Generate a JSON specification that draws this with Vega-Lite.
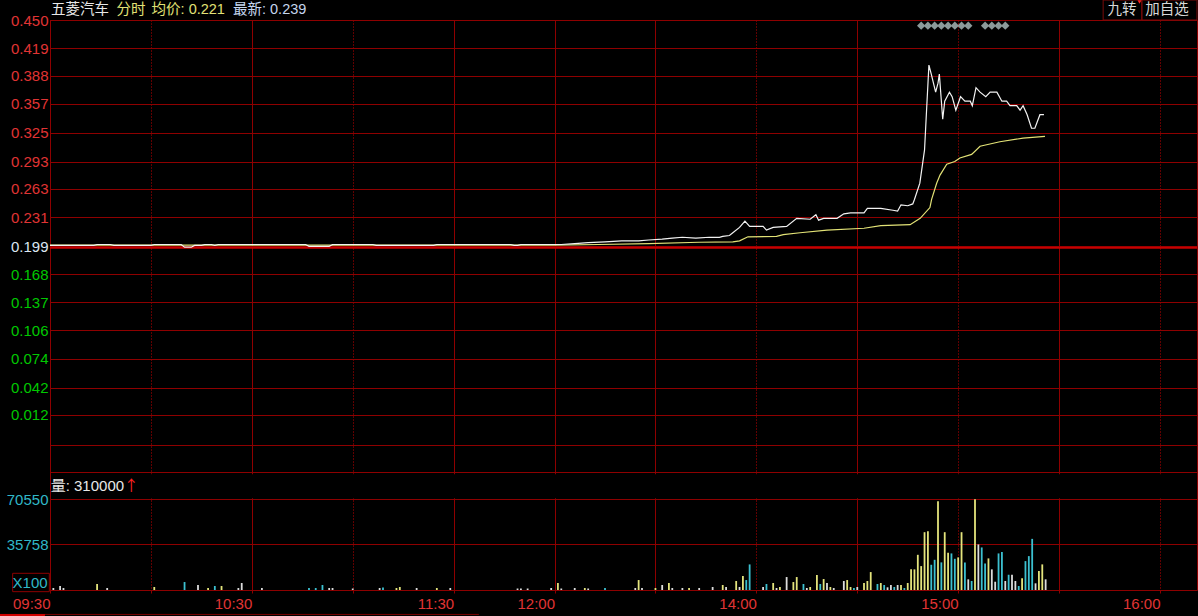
{
  "$schema": "https://vega.github.io/schema/vega-lite/v6.json",
  "width": 1147,
  "height": 570,
  "autosize": {"type": "none"},
  "padding": {"left": 50, "top": 20, "right": 1, "bottom": 26},
  "background": "#000000",
  "config": {
    "view": {"stroke": "#8e0000", "strokeWidth": 1},
    "text": {"font": "Liberation Sans, Noto Sans CJK SC", "fontSize": 14.5, "baseline": "middle"},
    "axis": {"labelFont": "Liberation Sans", "labelFontSize": 15, "title": null}
  },
  "datasets": {
    "price": [
      {"m":0,"p":0.200},{"m":13,"p":0.200},{"m":14,"p":0.201},{"m":18,"p":0.201},{"m":19,"p":0.200},
      {"m":30,"p":0.200},{"m":31,"p":0.201},{"m":39,"p":0.201},{"m":40,"p":0.198},{"m":42,"p":0.198},
      {"m":43,"p":0.200},{"m":45,"p":0.200},{"m":46,"p":0.201},{"m":48,"p":0.201},{"m":49,"p":0.200},
      {"m":50,"p":0.201},{"m":76,"p":0.201},{"m":77,"p":0.199},{"m":83,"p":0.199},{"m":84,"p":0.201},
      {"m":96,"p":0.201},{"m":97,"p":0.200},{"m":114,"p":0.200},{"m":115,"p":0.201},{"m":137,"p":0.201},
      {"m":138,"p":0.200},{"m":139,"p":0.200},{"m":140,"p":0.201},{"m":150,"p":0.201},
      {"m":152,"p":0.201},{"m":156,"p":0.202},{"m":160,"p":0.203},{"m":165,"p":0.204},{"m":170,"p":0.205},
      {"m":175,"p":0.205},{"m":178,"p":0.206},{"m":182,"p":0.207},{"m":185,"p":0.208},{"m":188,"p":0.209},
      {"m":192,"p":0.208},{"m":196,"p":0.209},{"m":199,"p":0.209},{"m":200,"p":0.210},{"m":202,"p":0.211},
      {"m":203,"p":0.214},{"m":205,"p":0.220},{"m":206.6,"p":0.227},{"m":208,"p":0.221},{"m":212,"p":0.221},
      {"m":213,"p":0.217},{"m":215,"p":0.220},{"m":219,"p":0.221},{"m":222,"p":0.230},{"m":226,"p":0.229},
      {"m":227.7,"p":0.234},{"m":228.5,"p":0.228},{"m":230,"p":0.230},{"m":234,"p":0.230},{"m":236,"p":0.235},
      {"m":238,"p":0.236},{"m":242,"p":0.236},{"m":243,"p":0.241},{"m":247,"p":0.241},{"m":250.6,"p":0.239},
      {"m":252,"p":0.238},{"m":253,"p":0.245},{"m":255,"p":0.244},{"m":256.5,"p":0.246},{"m":257,"p":0.251},
      {"m":258.6,"p":0.269},{"m":260,"p":0.306},{"m":260.6,"p":0.350},{"m":261.3,"p":0.400},{"m":262,"p":0.390},
      {"m":263.3,"p":0.370},{"m":264,"p":0.380},{"m":264.4,"p":0.390},{"m":265,"p":0.360},{"m":265.4,"p":0.340},
      {"m":266,"p":0.360},{"m":267.4,"p":0.370},{"m":268.2,"p":0.365},{"m":269.3,"p":0.350},{"m":270.7,"p":0.365},
      {"m":272,"p":0.360},{"m":273.6,"p":0.360},{"m":274.2,"p":0.355},{"m":275.3,"p":0.375},{"m":276.5,"p":0.370},
      {"m":278.2,"p":0.365},{"m":279.5,"p":0.370},{"m":281.5,"p":0.370},{"m":283,"p":0.360},{"m":284.4,"p":0.360},
      {"m":285.4,"p":0.355},{"m":287.4,"p":0.355},{"m":288.4,"p":0.350},{"m":289.3,"p":0.355},{"m":290.5,"p":0.345},
      {"m":291.8,"p":0.330},{"m":292.8,"p":0.330},{"m":294.3,"p":0.345},{"m":295.5,"p":0.345}
    ],
    "avg": [
      {"m":0,"a":0.2002},{"m":150,"a":0.2002},{"m":163,"a":0.201},{"m":178,"a":0.202},{"m":193,"a":0.2035},
      {"m":203,"a":0.204},{"m":205,"a":0.205},{"m":207.5,"a":0.2095},{"m":216,"a":0.210},{"m":218,"a":0.212},
      {"m":223,"a":0.214},{"m":231,"a":0.217},{"m":242,"a":0.219},{"m":247,"a":0.222},{"m":255.7,"a":0.223},
      {"m":258.7,"a":0.230},{"m":261.6,"a":0.242},{"m":262.1,"a":0.251},{"m":263.6,"a":0.269},{"m":264.6,"a":0.278},
      {"m":266.6,"a":0.290},{"m":269,"a":0.293},{"m":270.5,"a":0.297},{"m":274,"a":0.301},{"m":276.5,"a":0.310},
      {"m":282.4,"a":0.315},{"m":289.3,"a":0.319},{"m":295.8,"a":0.321}
    ],
    "flags": [
      {"m":259},{"m":261},{"m":263},{"m":265},{"m":267},{"m":269},{"m":271},{"m":273},
      {"m":278},{"m":280},{"m":282},{"m":284}
    ],
    "vol": [
      {"m":1,"v":1550,"d":"n"},{"m":3,"v":3100,"d":"n"},{"m":4,"v":1550,"d":"n"},{"m":14,"v":4650,"d":"u"},
      {"m":17,"v":1550,"d":"n"},{"m":31,"v":2330,"d":"u"},{"m":40,"v":6200,"d":"d"},{"m":44,"v":3880,"d":"n"},
      {"m":47,"v":1550,"d":"u"},{"m":49,"v":3100,"d":"d"},{"m":51,"v":3100,"d":"u"},{"m":56,"v":1550,"d":"n"},
      {"m":57,"v":5430,"d":"n"},{"m":63,"v":1550,"d":"n"},{"m":77,"v":1550,"d":"d"},{"m":79,"v":1550,"d":"d"},
      {"m":81,"v":3880,"d":"d"},{"m":83,"v":1550,"d":"n"},{"m":84,"v":1550,"d":"n"},{"m":90,"v":1160,"d":"n"},
      {"m":98,"v":1550,"d":"n"},{"m":99,"v":1940,"d":"d"},{"m":103,"v":1550,"d":"u"},{"m":104,"v":2330,"d":"u"},
      {"m":109,"v":1550,"d":"n"},{"m":115,"v":1550,"d":"u"},{"m":119,"v":1550,"d":"n"},{"m":139,"v":1160,"d":"n"},
      {"m":140,"v":1160,"d":"n"},{"m":142,"v":1160,"d":"n"},{"m":149,"v":1550,"d":"n"},{"m":151,"v":5430,"d":"u"},
      {"m":152,"v":1160,"d":"n"},{"m":156,"v":1550,"d":"n"},{"m":159,"v":1550,"d":"u"},{"m":160,"v":1160,"d":"n"},
      {"m":165,"v":1550,"d":"d"},{"m":174,"v":1550,"d":"n"},{"m":175,"v":7750,"d":"u"},{"m":176,"v":1550,"d":"n"},
      {"m":180,"v":1550,"d":"u"},{"m":182,"v":3880,"d":"n"},{"m":184,"v":5430,"d":"u"},{"m":185,"v":1550,"d":"n"},
      {"m":188,"v":1550,"d":"n"},{"m":190,"v":1550,"d":"u"},{"m":193,"v":1550,"d":"n"},{"m":197,"v":2330,"d":"n"},
      {"m":200,"v":3880,"d":"u"},{"m":201,"v":2330,"d":"n"},{"m":204,"v":6980,"d":"u"},{"m":205,"v":2330,"d":"n"},
      {"m":206,"v":10850,"d":"u"},{"m":207,"v":7750,"d":"d"},{"m":208,"v":19900,"d":"d"},{"m":212,"v":2330,"d":"n"},
      {"m":213,"v":4650,"d":"d"},{"m":215,"v":5430,"d":"u"},{"m":216,"v":1550,"d":"n"},{"m":217,"v":2330,"d":"u"},
      {"m":219,"v":10080,"d":"n"},{"m":221,"v":6200,"d":"u"},{"m":222,"v":10080,"d":"u"},{"m":224,"v":4650,"d":"d"},
      {"m":225,"v":1550,"d":"n"},{"m":226,"v":2330,"d":"u"},{"m":228,"v":11630,"d":"u"},{"m":229,"v":4650,"d":"d"},
      {"m":230,"v":8530,"d":"u"},{"m":231,"v":5430,"d":"n"},{"m":232,"v":2330,"d":"u"},{"m":233,"v":1550,"d":"n"},
      {"m":236,"v":6980,"d":"n"},{"m":237,"v":7750,"d":"u"},{"m":238,"v":2330,"d":"u"},{"m":239,"v":1550,"d":"d"},
      {"m":240,"v":2330,"d":"n"},{"m":242,"v":5430,"d":"u"},{"m":243,"v":6980,"d":"u"},{"m":244,"v":13950,"d":"u"},
      {"m":246,"v":4650,"d":"d"},{"m":247,"v":5430,"d":"u"},{"m":248,"v":3880,"d":"d"},{"m":249,"v":2090,"d":"n"},
      {"m":250,"v":3880,"d":"n"},{"m":251,"v":2330,"d":"d"},{"m":252,"v":3880,"d":"n"},{"m":253,"v":3880,"d":"u"},
      {"m":254,"v":1550,"d":"d"},{"m":255,"v":5430,"d":"u"},{"m":256,"v":16050,"d":"u"},{"m":257,"v":16050,"d":"u"},
      {"m":258,"v":27370,"d":"u"},{"m":259,"v":18600,"d":"u"},{"m":260,"v":44970,"d":"u"},{"m":261,"v":45740,"d":"u"},
      {"m":262,"v":19620,"d":"d"},{"m":263,"v":23490,"d":"d"},{"m":264,"v":69000,"d":"u"},{"m":265,"v":21480,"d":"d"},
      {"m":266,"v":44970,"d":"u"},{"m":267,"v":28920,"d":"u"},{"m":268,"v":28450,"d":"d"},{"m":269,"v":24270,"d":"d"},
      {"m":270,"v":25350,"d":"u"},{"m":271,"v":44970,"d":"u"},{"m":272,"v":21480,"d":"d"},{"m":273,"v":8300,"d":"n"},
      {"m":274,"v":6980,"d":"d"},{"m":275,"v":70550,"d":"u"},{"m":276,"v":35430,"d":"n"},{"m":277,"v":33100,"d":"d"},
      {"m":278,"v":20700,"d":"d"},{"m":279,"v":24580,"d":"u"},{"m":280,"v":16050,"d":"n"},{"m":281,"v":6430,"d":"n"},
      {"m":282,"v":28450,"d":"d"},{"m":283,"v":29460,"d":"d"},{"m":284,"v":6980,"d":"n"},{"m":285,"v":11860,"d":"d"},
      {"m":286,"v":11860,"d":"n"},{"m":287,"v":6980,"d":"n"},{"m":288,"v":3100,"d":"d"},{"m":289,"v":9070,"d":"u"},
      {"m":290,"v":22480,"d":"d"},{"m":291,"v":26360,"d":"d"},{"m":292,"v":39770,"d":"d"},{"m":293,"v":5190,"d":"n"},
      {"m":294,"v":14730,"d":"u"},{"m":295,"v":19920,"d":"u"},{"m":296,"v":8300,"d":"n"}
    ]
  },
  "layer": [
    {
      "layer": [
        {
          "data": {"values": [{}]},
          "mark": {"type": "rule", "color": "#c80000", "strokeWidth": 2, "yOffset": 1.5},
          "encoding": {"y": {"datum": 0.199, "type": "quantitative"}}
        },
        {
          "data": {"name": "avg"},
          "mark": {"type": "line", "color": "#e2e276", "strokeWidth": 1.2},
          "encoding": {
            "x": {"field": "m", "type": "quantitative"},
            "y": {"field": "a", "type": "quantitative"}
          }
        },
        {
          "data": {"name": "price"},
          "mark": {"type": "line", "color": "#f2f2f2", "strokeWidth": 1.2},
          "encoding": {
            "x": {
              "field": "m",
              "type": "quantitative",
              "scale": {"domain": [0, 341], "nice": false, "zero": false},
              "axis": {
                "title": null,
                "values": [0, 30, 60, 90, 120, 150, 180, 210, 240, 270, 300, 330],
                "tickCount": 60,
                "labelExpr": "datum.value == 0 ? '09:30' : datum.value == 60 ? '10:30' : datum.value == 120 ? '11:30' : datum.value == 150 ? '12:00' : datum.value == 210 ? '14:00' : datum.value == 270 ? '15:00' : datum.value == 330 ? '16:00' : ''",
                "labelAlign": "right",
                "labelDx": -2,
                "labelBaseline": "top",
                "labelPadding": 3,
                "labelColor": "#e03434",
                "labelFlush": false,
                "labelOverlap": false,
                "labelBound": false,
                "domain": false,
                "ticks": true,
                "tickSize": 3,
                "tickColor": "#8e0000",
                "grid": true,
                "gridColor": {"condition": {"test": "datum.value % 60 == 30 && datum.value != 150", "value": "#c00000"}, "value": "#8e0000"},
                "gridOpacity": 1,
                "gridWidth": 1,
                "gridDash": {"condition": {"test": "datum.value % 60 == 30 && datum.value != 150", "value": [1, 2]}, "value": []}
              }
            },
            "y": {
              "field": "p",
              "type": "quantitative",
              "scale": {"domain": [-0.1824, 0.4501], "nice": false, "zero": false},
              "axis": {
                "orient": "left",
                "title": null,
                "values": [0.450, 0.419, 0.388, 0.357, 0.325, 0.293, 0.263, 0.231, 0.199, 0.168, 0.137, 0.106, 0.074, 0.042, 0.012, -0.021, -0.052],
                "tickCount": 60,
                "labelExpr": "datum.value < 0 ? '' : format(datum.value, '.3f')",
                "labelColor": {"condition": [{"test": "datum.value > 0.2", "value": "#e03434"}, {"test": "datum.value > 0.19", "value": "#dce6f2"}], "value": "#00c800"},
                "labelPadding": 2,
                "labelFlush": false,
                "labelOverlap": false,
                "labelBound": false,
                "domain": false,
                "ticks": false,
                "grid": true,
                "gridColor": "#8e0000",
                "gridOpacity": 1,
                "gridWidth": 1
              }
            }
          }
        },
        {
          "data": {"name": "flags"},
          "mark": {"type": "point", "shape": "diamond", "filled": true, "color": "#8c9a9a", "size": 70, "opacity": 1},
          "encoding": {
            "x": {"field": "m", "type": "quantitative"},
            "y": {"datum": 0.4438, "type": "quantitative"}
          }
        },
        {
          "data": {"values": [{}]},
          "mark": {"type": "text", "text": "五菱汽车", "align": "left", "color": "#e8e8e8"},
          "encoding": {"x": {"datum": 0.3, "type": "quantitative"}, "y": {"datum": 0.4617, "type": "quantitative"}}
        },
        {
          "data": {"values": [{}]},
          "mark": {"type": "text", "text": "分时", "align": "left", "color": "#e2e276"},
          "encoding": {"x": {"datum": 19.8, "type": "quantitative"}, "y": {"datum": 0.4617, "type": "quantitative"}}
        },
        {
          "data": {"values": [{}]},
          "mark": {"type": "text", "text": "均价: 0.221", "align": "left", "color": "#e2e276"},
          "encoding": {"x": {"datum": 30.2, "type": "quantitative"}, "y": {"datum": 0.4617, "type": "quantitative"}}
        },
        {
          "data": {"values": [{}]},
          "mark": {"type": "text", "text": "最新: 0.239", "align": "left", "color": "#c4d6ee"},
          "encoding": {"x": {"datum": 54.4, "type": "quantitative"}, "y": {"datum": 0.4617, "type": "quantitative"}}
        },
        {
          "data": {"values": [{}]},
          "mark": {"type": "rect", "fillOpacity": 0, "stroke": "#7a0a0a", "strokeWidth": 1},
          "encoding": {"x": {"datum": 313.1, "type": "quantitative"}, "x2": {"datum": 324.6}, "y": {"datum": 0.4501, "type": "quantitative"}, "y2": {"datum": 0.4723}}
        },
        {
          "data": {"values": [{}]},
          "mark": {"type": "rect", "fillOpacity": 0, "stroke": "#7a0a0a", "strokeWidth": 1},
          "encoding": {"x": {"datum": 324.6, "type": "quantitative"}, "x2": {"datum": 341}, "y": {"datum": 0.4501, "type": "quantitative"}, "y2": {"datum": 0.4723}}
        },
        {
          "data": {"values": [{}]},
          "mark": {"type": "text", "text": "九转", "align": "center", "color": "#d8d8d8"},
          "encoding": {"x": {"datum": 318.7, "type": "quantitative"}, "y": {"datum": 0.4612, "type": "quantitative"}}
        },
        {
          "data": {"values": [{}]},
          "mark": {"type": "text", "text": "加自选", "align": "center", "color": "#d8d8d8"},
          "encoding": {"x": {"datum": 332.1, "type": "quantitative"}, "y": {"datum": 0.4612, "type": "quantitative"}}
        },
        {
          "data": {"values": [{}]},
          "mark": {"type": "point", "shape": "triangle-down", "filled": true, "color": "#ff2020", "size": 16, "opacity": 1},
          "encoding": {"x": {"datum": 323.9, "type": "quantitative"}, "y": {"datum": 0.4700, "type": "quantitative"}}
        }
      ]
    },
    {
      "layer": [
        {
          "data": {"values": [{}]},
          "mark": {"type": "rect", "color": "#000000", "opacity": 1},
          "encoding": {"x": {"datum": 0.4, "type": "quantitative"}, "x2": {"datum": 340.6}, "y": {"datum": 71400, "type": "quantitative"}, "y2": {"datum": 90000}}
        },
        {
          "data": {"name": "vol"},
          "mark": {"type": "rule", "strokeWidth": 1.8},
          "encoding": {
            "x": {"field": "m", "type": "quantitative"},
            "y": {
              "field": "v",
              "type": "quantitative",
              "scale": {"domain": [0, 443350], "nice": false, "zero": false},
              "axis": {
                "orient": "left",
                "title": null,
                "values": [35758, 70550],
                "tickCount": 60,
                "format": "d",
                "labelColor": "#30b8c8",
                "labelPadding": 2,
                "labelFlush": false,
                "labelOverlap": false,
                "labelBound": false,
                "domain": false,
                "ticks": false,
                "grid": true,
                "gridColor": "#8e0000",
                "gridOpacity": 1,
                "gridWidth": 1
              }
            },
            "y2": {"datum": 0},
            "color": {"field": "d", "type": "nominal", "scale": {"domain": ["u", "d", "n"], "range": ["#e4e47c", "#3cc0d0", "#dcdcdc"]}, "legend": null}
          }
        },
        {
          "data": {"values": [{}]},
          "mark": {"type": "rect", "fillOpacity": 0, "stroke": "#8e0000", "strokeWidth": 1},
          "encoding": {"x": {"datum": -11.1, "type": "quantitative"}, "x2": {"datum": -0.2}, "y": {"datum": -1300, "type": "quantitative"}, "y2": {"datum": 12990}}
        },
        {
          "data": {"values": [{}]},
          "mark": {"type": "text", "text": "X100", "align": "right", "font": "Liberation Sans", "fontSize": 15, "color": "#30b8c8"},
          "encoding": {"x": {"datum": -0.7, "type": "quantitative"}, "y": {"datum": 5680, "type": "quantitative"}}
        },
        {
          "data": {"values": [{}]},
          "mark": {"type": "text", "text": "量: 310000", "align": "left", "fontSize": 15, "color": "#e8e8e8"},
          "encoding": {"x": {"datum": 0.2, "type": "quantitative"}, "y": {"datum": 80900, "type": "quantitative"}}
        },
        {
          "data": {"values": [{}]},
          "mark": {"type": "text", "text": "↑", "align": "left", "font": "Noto Sans CJK SC", "fontSize": 15, "color": "#ff2020"},
          "encoding": {"x": {"datum": 21.9, "type": "quantitative"}, "y": {"datum": 80900, "type": "quantitative"}}
        },
        {
          "data": {"values": [{}]},
          "mark": {"type": "rule", "color": "#7a0000", "strokeWidth": 1},
          "encoding": {"x": {"datum": -14.9, "type": "quantitative"}, "x2": {"datum": 127.5}, "y": {"datum": -19000, "type": "quantitative"}}
        },
        {
          "data": {"values": [{}]},
          "mark": {"type": "rule", "color": "#d00000", "strokeWidth": 3},
          "encoding": {"x": {"datum": -14.9, "type": "quantitative"}, "x2": {"datum": -1.5}, "y": {"datum": -19800, "type": "quantitative"}}
        }
      ]
    }
  ],
  "resolve": {"scale": {"y": "independent"}, "axis": {"y": "independent"}}
}
